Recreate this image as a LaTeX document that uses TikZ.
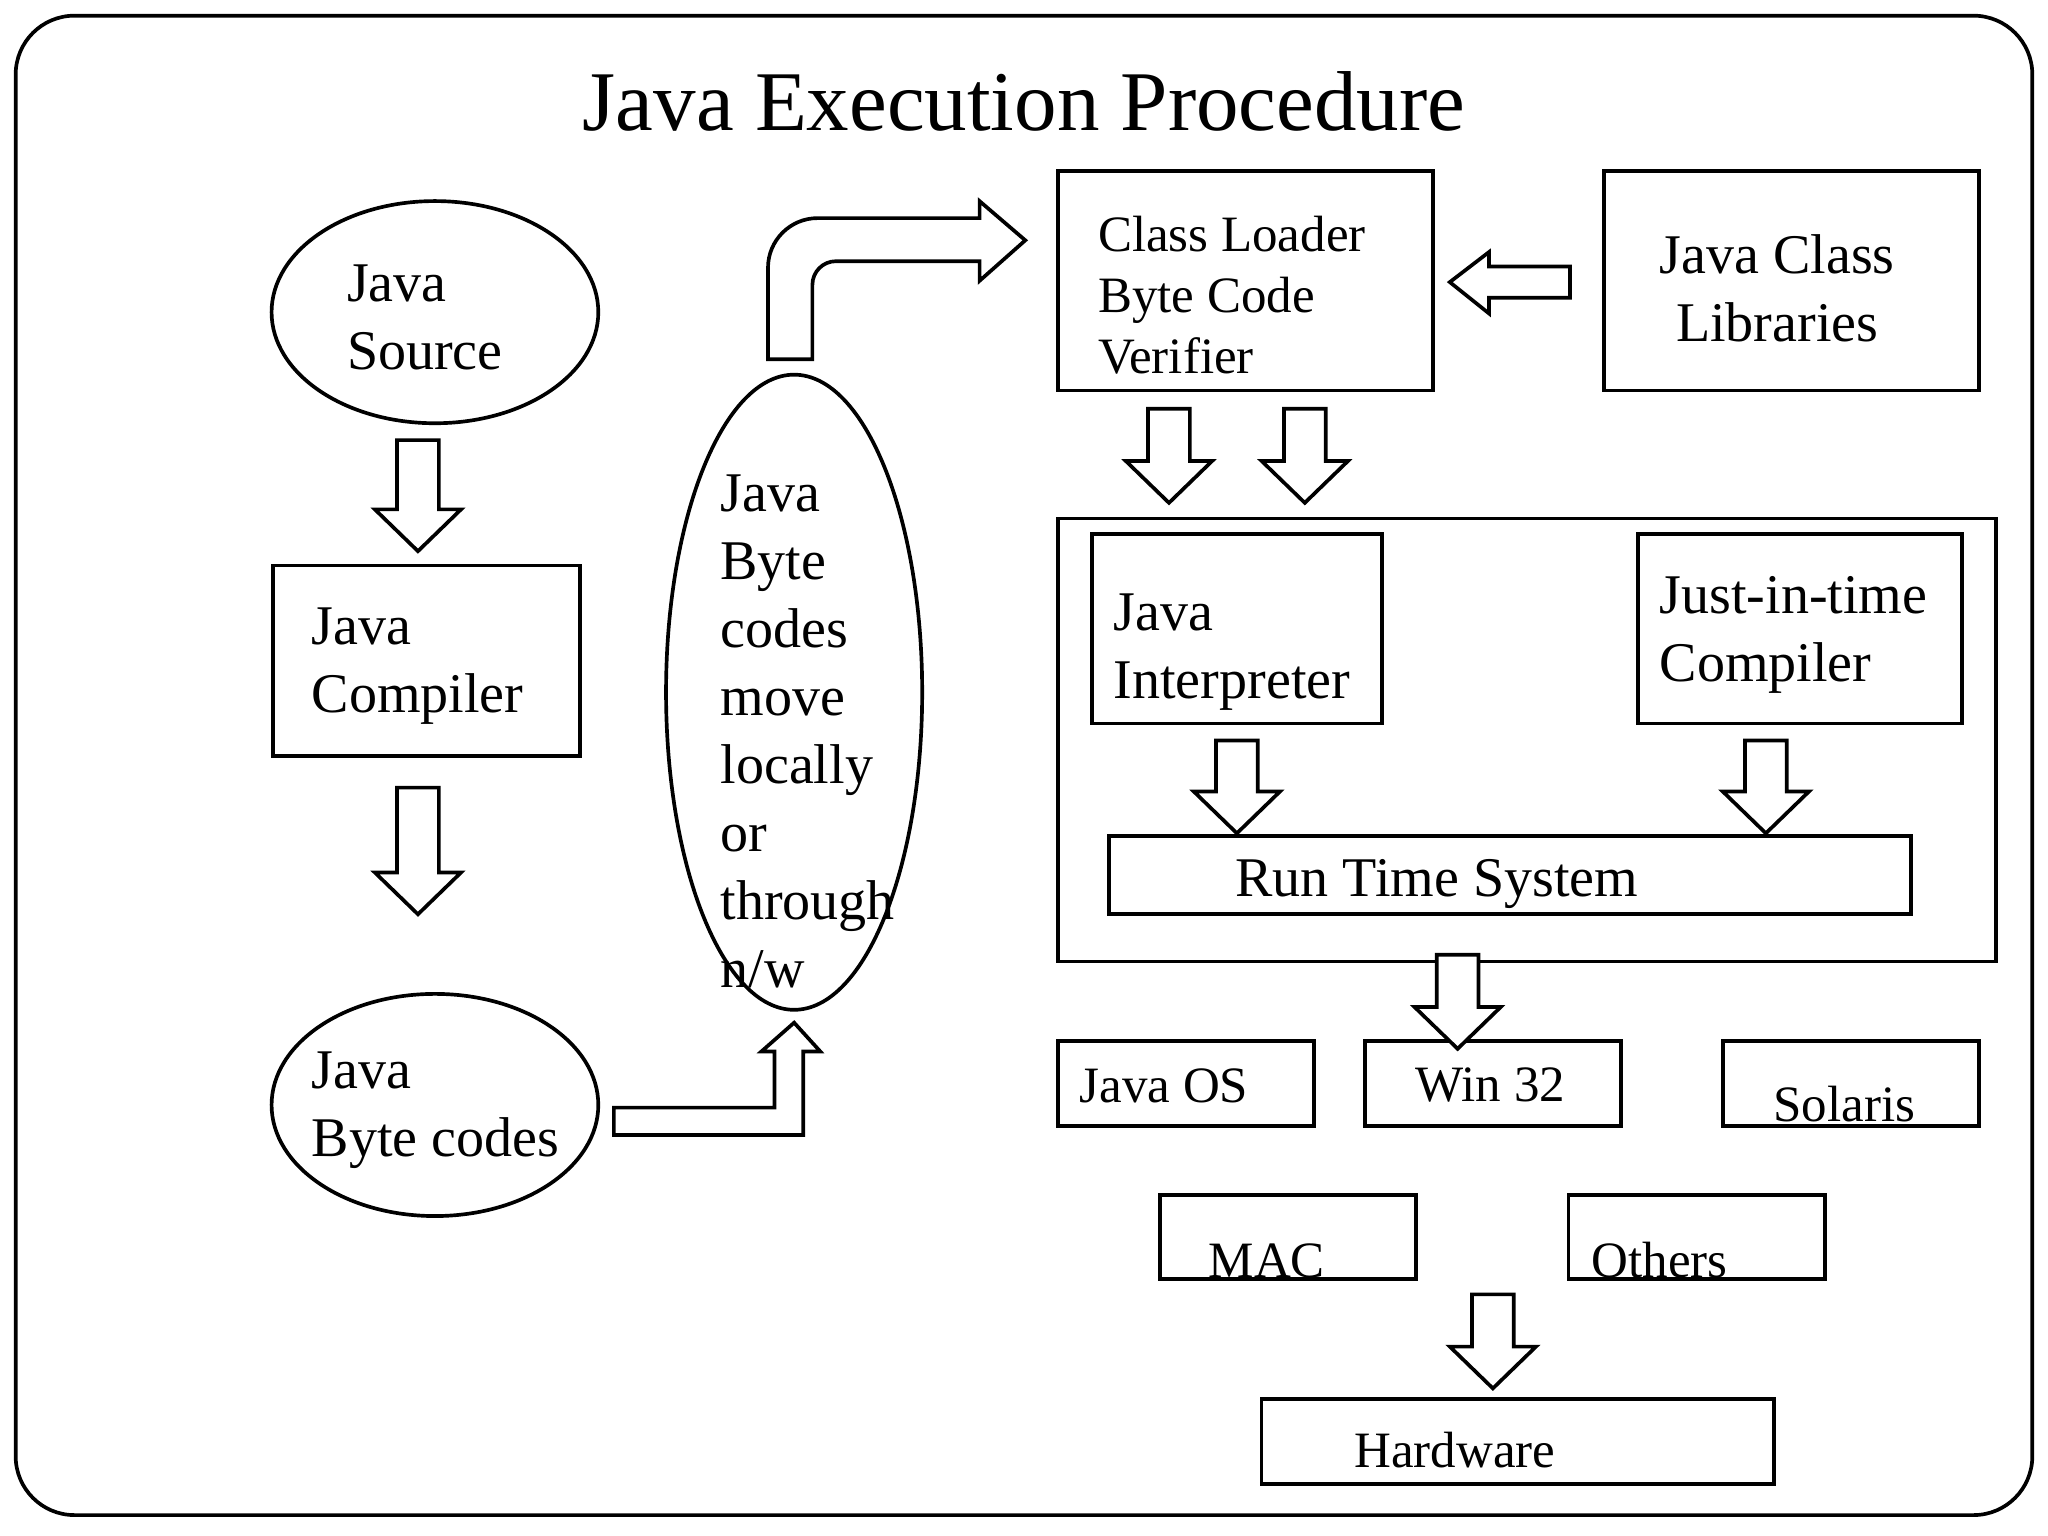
\documentclass[tikz,border=0pt]{standalone}
\usepackage{fontspec}
\setmainfont{Liberation Serif}
\usetikzlibrary{shapes.geometric}
\tikzset{
  box/.style={draw, thick, rectangle, inner sep=0pt},
  oval/.style={draw, thick, ellipse, inner sep=0pt},
  txt/.style={inner sep=0pt, align=left, anchor=west, font=\fontsize{12.2}{14.8}\selectfont},
  stxt/.style={inner sep=0pt, align=left, font=\fontsize{11.1}{13.3}\selectfont},
  blk/.style={draw, thick, fill=white}
}
% hollow down arrow: x, top y, bottom y
\newcommand{\dnarr}[3]{\draw[blk] (#1-16,#2) -- (#1+16,#2) -- (#1+16,#3-32) -- (#1+33,#3-32) -- (#1,#3) -- (#1-33,#3-32) -- (#1-16,#3-32) -- cycle;}
\begin{document}
\begin{tikzpicture}[x=0.01cm, y=-0.01cm]
\useasboundingbox (0,0) rectangle (1568,1176);
\draw[thick, rounded corners=0.45cm] (12,12) rectangle (1556,1160);
\node[inner sep=0pt, font=\fontsize{18.5}{22}\selectfont] (title) at (784,78) {Java Execution Procedure};

% left column
\node[oval, minimum width=2.50cm, minimum height=1.70cm] (src) at (333,239) {};
\node[txt] (srct) at (265,243) {Java\\Source};
\dnarr{320}{337}{422}
\node[box, minimum width=2.35cm, minimum height=1.46cm] (comp) at (326.5,506) {};
\node[txt] (compt) at (238,510) {Java\\Compiler};
\dnarr{320}{603}{700}
\node[oval, minimum width=2.50cm, minimum height=1.70cm] (bc) at (333,846) {};
\node[txt] (bct) at (238,850) {Java\\Byte codes};

% byte codes move
\node[oval, minimum width=1.96cm, minimum height=4.86cm] (mv) at (608,530) {};
\node[txt] (mvt) at (551,560) {Java\\Byte\\codes\\move\\locally\\or\\through\\n/w};
\draw[blk] (470,848) -- (593,848) -- (593,805) -- (583,805) -- (608,783) -- (628,805) -- (615,805) -- (615,869) -- (470,869) -- cycle;
\draw[blk] (588,275) [rounded corners=0.38cm] -- (588,167) [sharp corners] -- (750,167) -- (750,154) -- (785,184) -- (750,215) -- (750,200) [rounded corners=0.18cm] -- (622,200) [sharp corners] -- (622,275) -- cycle;

% class loader, libraries
\node[box, minimum width=2.87cm, minimum height=1.68cm] (cl) at (953.5,215) {};
\node[stxt, anchor=west] (clt) at (840,226) {Class Loader\\Byte Code\\Verifier};
\node[box, minimum width=2.87cm, minimum height=1.68cm] (lib) at (1371.5,215) {};
\node[txt, align=center] (libt) at (1270,221) {Java Class\\Libraries};
\draw[blk] (1202,204) -- (1140,204) -- (1140,193) -- (1110,216) -- (1140,240) -- (1140,228) -- (1202,228) -- cycle;
\dnarr{895}{313}{385}
\dnarr{999}{313}{385}

% JVM box
\node[box, minimum width=7.18cm, minimum height=3.39cm] (jvm) at (1169,566.5) {};
\node[box, minimum width=2.22cm, minimum height=1.45cm] (interp) at (947,481.5) {};
\node[txt] (interpt) at (852,499) {Java\\Interpreter};
\node[box, minimum width=2.48cm, minimum height=1.45cm] (jit) at (1378,481.5) {};
\node[txt] (jitt) at (1270,486) {Just-in-time\\Compiler};
\dnarr{947}{567}{638}
\dnarr{1352}{567}{638}
\node[box, minimum width=6.14cm, minimum height=0.60cm] (rts) at (1156,670) {};
\node[inner sep=0pt, font=\fontsize{12.2}{14.8}\selectfont] (rtst) at (1100,677) {Run Time System};

% OS boxes
\node[box, minimum width=1.96cm, minimum height=0.65cm] (jos) at (908,829.5) {};
\node[stxt, anchor=west] (jost) at (826,831) {Java OS};
\node[box, minimum width=1.96cm, minimum height=0.65cm] (win) at (1143,829.5) {};
\dnarr{1116}{731}{803}
\node[stxt] (wint) at (1141,831) {Win 32};
\node[box, minimum width=1.96cm, minimum height=0.65cm] (sol) at (1417,829.5) {};
\node[stxt] (solt) at (1412,845) {Solaris};
\node[box, minimum width=1.96cm, minimum height=0.64cm] (mac) at (986,947) {};
\node[stxt] (mact) at (970,965) {MAC};
\node[box, minimum width=1.96cm, minimum height=0.64cm] (oth) at (1299,947) {};
\node[stxt, anchor=west] (otht) at (1218,965) {Others};
\dnarr{1143}{991}{1063}
\node[box, minimum width=3.92cm, minimum height=0.65cm] (hw) at (1162,1103.5) {};
\node[stxt] (hwt) at (1114,1110) {Hardware};
\end{tikzpicture}
\end{document}
